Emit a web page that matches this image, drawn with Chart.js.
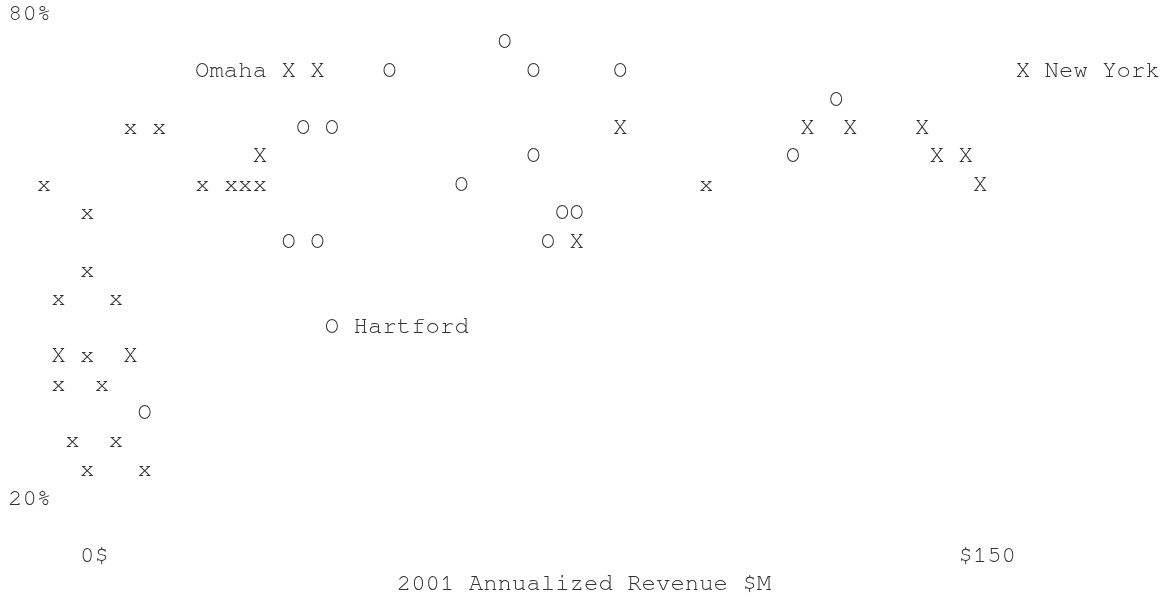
<!DOCTYPE html>
<html>
<head>
<meta charset="utf-8">
<script src="https://cdn.jsdelivr.net/npm/chart.js@4.4.1/dist/chart.umd.min.js"></script>
<style>
html,body{margin:0;padding:0;background:#ffffff;}
#wrap{width:1171px;height:603px;}
</style>
</head>
<body>
<div id="wrap"><canvas id="c" width="1171" height="603"></canvas></div>
<script>
// ---- tick labels / titles ----
const yTickValues = [80, 20];
const yTickLabels = ['80%', '20%'];
const xTickValues = [0, 150];
const xTickLabels = ['0$', '$150'];
const xAxisTitle = '2001 Annualized Revenue $M';

// ---- series "O" (revenue $M, margin %) ----
const oRevenue = [71.3, 51.6, 76.2, 91.0, 127.9, 36.9, 41.8, 76.2, 120.5, 63.9, 81.1, 83.6, 34.4, 39.3, 78.7, 41.8, 9.8];
const oMargin  = [76.5, 72.9, 72.9, 72.9, 69.4, 65.9, 65.9, 62.4, 62.4, 58.8, 55.3, 55.3, 51.8, 51.8, 51.8, 41.2, 30.6];
const oNames   = ['', '', '', '', '', '', '', '', '', '', '', '', '', '', '', 'Hartford', ''];

// ---- series "X" ----
const bigXRevenue = [34.4, 39.3, 159.8, 91.0, 123.0, 130.3, 142.6, 29.5, 145.1, 150.0, 152.5, 83.6, -4.9, 7.4];
const bigXMargin  = [72.9, 72.9, 72.9, 65.9, 65.9, 65.9, 65.9, 62.4, 62.4, 62.4, 58.8, 51.8, 37.6, 37.6];
const bigXNames   = ['Omaha', '', 'New York', '', '', '', '', '', '', '', '', '', '', ''];

// ---- series "x" ----
const smallXRevenue = [7.4, 12.3, -7.4, 19.7, 24.6, 27.0, 29.5, 105.7, 0.0, 0.0, -4.9, 4.9, 0.0, -4.9, 2.5, -2.5, 4.9, 0.0, 9.8];
const smallXMargin  = [65.9, 65.9, 58.8, 58.8, 58.8, 58.8, 58.8, 58.8, 55.3, 48.2, 44.7, 44.7, 37.6, 34.1, 34.1, 27.1, 27.1, 23.5, 23.5];

function toPoints(xs, ys) { return xs.map((x, i) => ({ x: x, y: ys[i] })); }

const FONT = "24px 'Nimbus Mono PS', 'Nimbus Mono L', 'Nimbus Mono', FreeMono, 'Courier 10 Pitch', 'Courier New', Courier, monospace";
const INK = '#333333';
const CHAR_W = 14.4;
const ROW_H = 28.5;
const BASE = 6.7;   // baseline offset below glyph centre

const asciiPlugin = {
  id: 'ascii',
  afterDatasetsDraw(chart, args, opts) {
    const ctx = chart.ctx;
    const xs = chart.scales.x, ys = chart.scales.y;
    ctx.save();
    ctx.font = FONT;
    ctx.fillStyle = INK;
    ctx.textBaseline = 'alphabetic';
    chart.data.datasets.forEach((ds, i) => {
      const meta = chart.getDatasetMeta(i);
      meta.data.forEach((el, j) => {
        ctx.textAlign = 'center';
        ctx.fillText(ds.glyph, el.x, el.y + BASE);
        const name = ds.names ? ds.names[j] : '';
        if (name) {
          ctx.textAlign = 'left';
          if ((opts.leftNames || []).includes(name)) {
            ctx.fillText(name, el.x - CHAR_W / 2 - (name.length + 1) * CHAR_W, el.y + BASE);
          } else {
            ctx.fillText(name, el.x + CHAR_W / 2 + CHAR_W, el.y + BASE);
          }
        }
      });
    });
    ctx.textAlign = 'left';
    yTickValues.forEach((v, i) => {
      ctx.fillText(yTickLabels[i], 8, ys.getPixelForValue(v) + BASE);
    });
    const yBottom = ys.getPixelForValue(yTickValues[yTickValues.length - 1]);
    xTickValues.forEach((v, i) => {
      ctx.fillText(xTickLabels[i], xs.getPixelForValue(v) - CHAR_W / 2, yBottom + 2 * ROW_H + BASE);
    });
    ctx.fillText(xAxisTitle, 8 + 27 * CHAR_W, yBottom + 3 * ROW_H + BASE);
    ctx.restore();
  }
};

const common = { pointRadius: 0, pointHoverRadius: 0, showLine: false };

new Chart(document.getElementById('c'), {
  type: 'scatter',
  data: {
    datasets: [
      Object.assign({ label: 'O', glyph: 'O', names: oNames, data: toPoints(oRevenue, oMargin) }, common),
      Object.assign({ label: 'X', glyph: 'X', names: bigXNames, data: toPoints(bigXRevenue, bigXMargin) }, common),
      Object.assign({ label: 'x', glyph: 'x', data: toPoints(smallXRevenue, smallXMargin) }, common)
    ]
  },
  options: {
    responsive: false,
    animation: false,
    events: [],
    devicePixelRatio: 1,
    layout: { padding: { left: 28.64, right: 29.72, top: 13.3, bottom: 24.45 } },
    scales: {
      x: { type: 'linear', min: -10, max: 180, display: false },
      y: { type: 'linear', min: 10, max: 80, display: false }
    },
    plugins: {
      legend: { display: false },
      tooltip: { enabled: false },
      ascii: { leftNames: ['Omaha'] }
    }
  },
  plugins: [asciiPlugin]
});
</script>
</body>
</html>
